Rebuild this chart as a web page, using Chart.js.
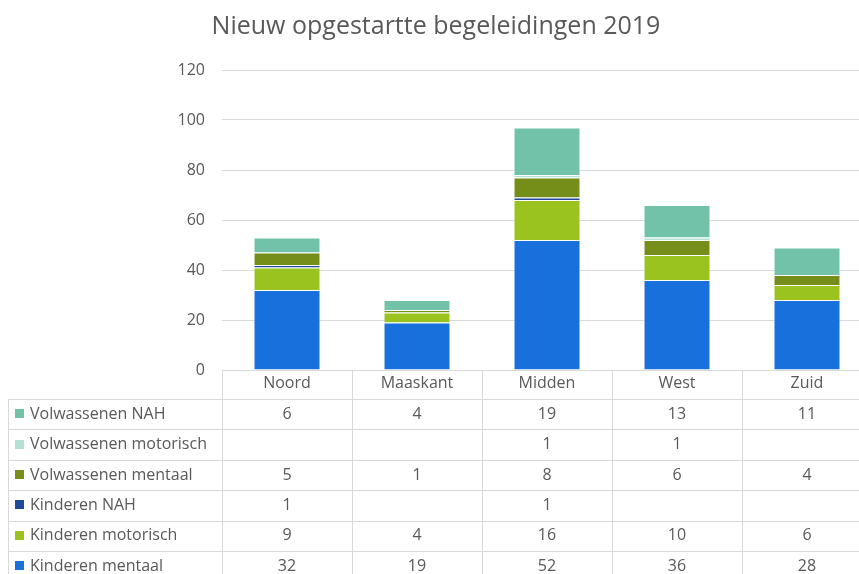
<!DOCTYPE html>
<html>
<head>
<meta charset="utf-8">
<script src="https://cdn.jsdelivr.net/npm/chart.js@4.4.1/dist/chart.umd.min.js"></script>
<style>
    html, body { margin: 0; padding: 0; background: #fff; overflow: hidden; }
    #wrap { position: relative; width: 880px; height: 590px; }
</style>
</head>
<body>
<div id="wrap"><canvas id="chart"></canvas></div>
<script>
const regions = ['Noord', 'Maaskant', 'Midden', 'West', 'Zuid'];

const kinderenMentaal = [32, 19, 52, 36, 28];
const kinderenMotorisch = [9, 4, 16, 10, 6];
const kinderenNAH = [1, null, 1, null, null];
const volwassenenMentaal = [5, 1, 8, 6, 4];
const volwassenenMotorisch = [null, null, 1, 1, null];
const volwassenenNAH = [6, 4, 19, 13, 11];

const yTicks = [0, 20, 40, 60, 80, 100, 120];

const seriesNames = ['Kinderen mentaal', 'Kinderen motorisch', 'Kinderen NAH', 'Volwassenen mentaal', 'Volwassenen motorisch', 'Volwassenen NAH'];
const seriesColors = ['#1770db', '#9bc31f', '#1f4a9a', '#748e19', '#b4e1d4', '#72c2aa'];
const seriesData = [kinderenMentaal, kinderenMotorisch, kinderenNAH, volwassenenMentaal, volwassenenMotorisch, volwassenenNAH];

const fontFamily = "'Open Sans', sans-serif";
const textColor = '#595959';
const lineColor = '#d9d9d9';

// draws the data table under the x axis, lined up with the category scale
const dataTable = {
    id: 'dataTable',
    afterDraw(chart) {
        const ctx = chart.ctx;
        const x = chart.scales.x;
        const area = chart.chartArea;
        const colW = x.getPixelForValue(1) - x.getPixelForValue(0);
        const headTop = area.bottom;
        const headBottom = x.bottom;
        const rowH = 30.4;
        const rows = chart.data.datasets.slice().reverse();
        const tableLeft = 8;
        const tableBottom = headBottom + rows.length * rowH;

        ctx.save();
        ctx.strokeStyle = lineColor;
        ctx.lineWidth = 1;
        ctx.beginPath();
        // vertical lines
        for (let i = 0; i <= regions.length; i++) {
            const px = Math.round(x.getPixelForValue(0) - colW / 2 + i * colW) + 0.5;
            ctx.moveTo(px, headTop);
            ctx.lineTo(px, tableBottom);
        }
        ctx.moveTo(tableLeft + 0.5, headBottom);
        ctx.lineTo(tableLeft + 0.5, tableBottom);
        // horizontal lines
        for (let r = 0; r <= rows.length; r++) {
            const py = Math.round(headBottom + r * rowH) + 0.5;
            ctx.moveTo(tableLeft, py);
            ctx.lineTo(area.right, py);
        }
        ctx.stroke();

        ctx.font = '16px ' + fontFamily;
        ctx.textBaseline = 'middle';
        rows.forEach((ds, r) => {
            const cy = headBottom + r * rowH + rowH / 2;
            ctx.fillStyle = ds.backgroundColor;
            ctx.fillRect(15, Math.round(cy - 5), 9, 9);
            ctx.fillStyle = textColor;
            ctx.textAlign = 'left';
            ctx.fillText(ds.label, 30, cy);
            ctx.textAlign = 'center';
            ds.data.forEach((v, i) => {
                if (v !== null) ctx.fillText(String(v), x.getPixelForValue(i), cy);
            });
        });
        ctx.restore();
    }
};

const ctx = document.getElementById('chart').getContext('2d');
new Chart(ctx, {
    type: 'bar',
    data: {
        labels: regions,
        datasets: seriesNames.map((name, i) => ({
            label: name,
            data: seriesData[i],
            backgroundColor: seriesColors[i],
            borderColor: 'rgba(255,255,255,0.55)',
            borderWidth: 1,
            barPercentage: 0.515,
            categoryPercentage: 1
        }))
    },
    options: {
        responsive: true,
        maintainAspectRatio: false,
        animation: false,
        layout: { padding: { left: 0, right: 8, top: 0, bottom: 191 } },
        plugins: {
            legend: { display: false },
            tooltip: { enabled: false },
            title: {
                display: true,
                text: 'Nieuw opgestartte begeleidingen 2019',
                color: textColor,
                font: { family: fontFamily, size: 25, weight: 'normal' },
                padding: { top: 12, bottom: 28 }
            }
        },
        scales: {
            x: {
                stacked: true,
                grid: { display: false, drawTicks: false },
                border: { display: true, color: lineColor },
                ticks: { color: textColor, font: { family: fontFamily, size: 16 }, padding: 4 },
                afterFit: function (scale) { scale.height = 29; }
            },
            y: {
                stacked: true,
                min: yTicks[0],
                max: yTicks[yTicks.length - 1],
                afterBuildTicks: function (scale) { scale.ticks = yTicks.map(v => ({ value: v })); },
                grid: { color: lineColor, drawTicks: false },
                border: { display: false },
                ticks: { color: textColor, font: { family: fontFamily, size: 16 }, padding: 17 },
                afterFit: function (scale) { scale.width = 222; }
            }
        }
    },
    plugins: [dataTable]
});
</script>
</body>
</html>
